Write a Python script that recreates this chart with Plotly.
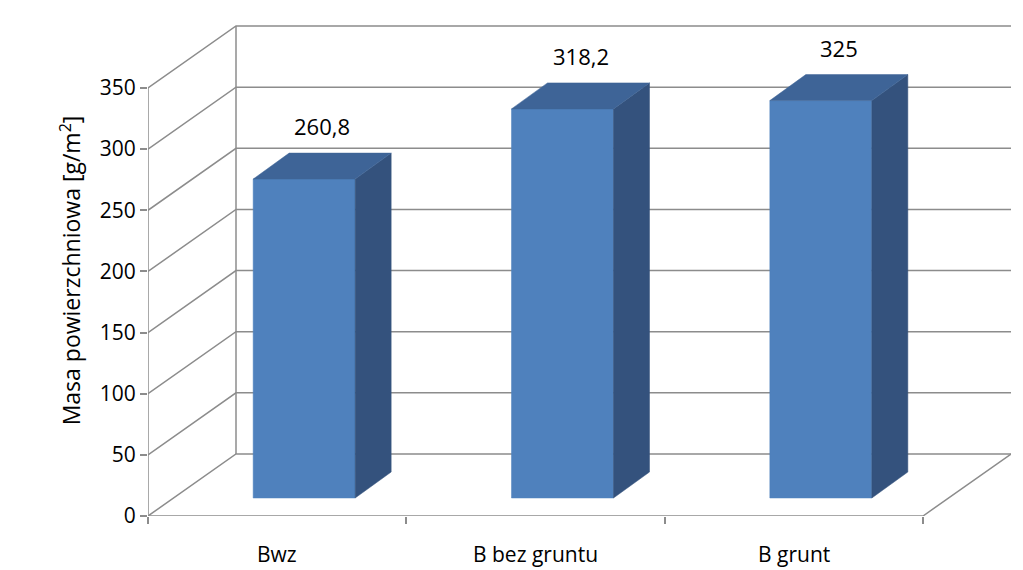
import plotly.graph_objects as go

categories = ["Bwz", "B bez gruntu", "B grunt"]
values = [260.8, 318.2, 325]
labels = ["260,8", "318,2", "325"]
y_ticks = [0, 50, 100, 150, 200, 250, 300, 350]

# geometry in axis units (x in px-like units, y in value units)
PX = 428 / 350          # pixels per value unit
depth_x, depth_y = 88, 62 / PX
group_w = 775 / 3
bar_half = 51
bar_shift_x, bar_shift_y = 27, 18 / PX
side_x, side_y = 36, 26 / PX
grid_col = "#8c8c8c"

fig = go.Figure()

def line(xs, ys, color=grid_col, width=1.5):
    fig.add_trace(go.Scatter(x=xs, y=ys, mode="lines", hoverinfo="skip",
                             line=dict(color=color, width=width), showlegend=False))

def poly(xs, ys, color):
    fig.add_trace(go.Scatter(x=xs + [xs[0]], y=ys + [ys[0]], mode="lines", fill="toself",
                             fillcolor=color, line=dict(color=color, width=0.5),
                             hoverinfo="skip", showlegend=False))

# walls and floor
for t in y_ticks:
    line([0, depth_x, 863], [t, t + depth_y, t + depth_y])
line([depth_x, depth_x], [depth_y, 350 + depth_y])
line([0, 775, 775 + depth_x], [0, 0, depth_y])
line([0, 0], [0, 350])

# bars
for i, v in enumerate(values):
    c = group_w * (i + 0.5) + bar_shift_x
    x0, x1 = c - bar_half, c + bar_half
    b = bar_shift_y
    poly([x0, x1, x1, x0], [b, b, b + v, b + v], "#4F81BD")
    poly([x1, x1 + side_x, x1 + side_x, x1], [b, b + side_y, b + v + side_y, b + v], "#34527D")
    poly([x0, x1, x1 + side_x, x0 + side_x], [b + v, b + v, b + v + side_y, b + v + side_y], "#3E6497")
    fig.add_annotation(x=c + side_x / 2, y=b + v + side_y, text=labels[i], showarrow=False,
                       yanchor="bottom", yshift=10, font=dict(size=22, color="black"))
    fig.add_annotation(x=group_w * (i + 0.5), y=0, yref="paper", text=categories[i],
                       showarrow=False, yanchor="top", yshift=-22,
                       font=dict(size=21, color="black"))

fig.update_layout(
    width=1023, height=570,
    margin=dict(l=140, r=20, t=17, b=62, autoexpand=False),
    paper_bgcolor="white", plot_bgcolor="white",
    font=dict(family="Open Sans, Liberation Sans, Arial", color="black"),
    xaxis=dict(range=[0, 863], showgrid=False, zeroline=False, showline=False,
               automargin=False,
               tickvals=[0, group_w, 2 * group_w, 775], ticktext=["", "", "", ""],
               ticks="outside", ticklen=7, tickcolor=grid_col, tickwidth=1.5),
    yaxis=dict(range=[0, (508 - 17) / PX], showgrid=False, zeroline=False, showline=False,
               automargin=False,
               tickvals=y_ticks, ticks="outside", ticklen=7, tickcolor=grid_col,
               tickwidth=1.5, tickfont=dict(size=21),
               title=dict(text="Masa powierzchniowa [g/m<sup>2</sup>]", font=dict(size=23),
                          standoff=12)),
)

fig.write_html("out.html")
